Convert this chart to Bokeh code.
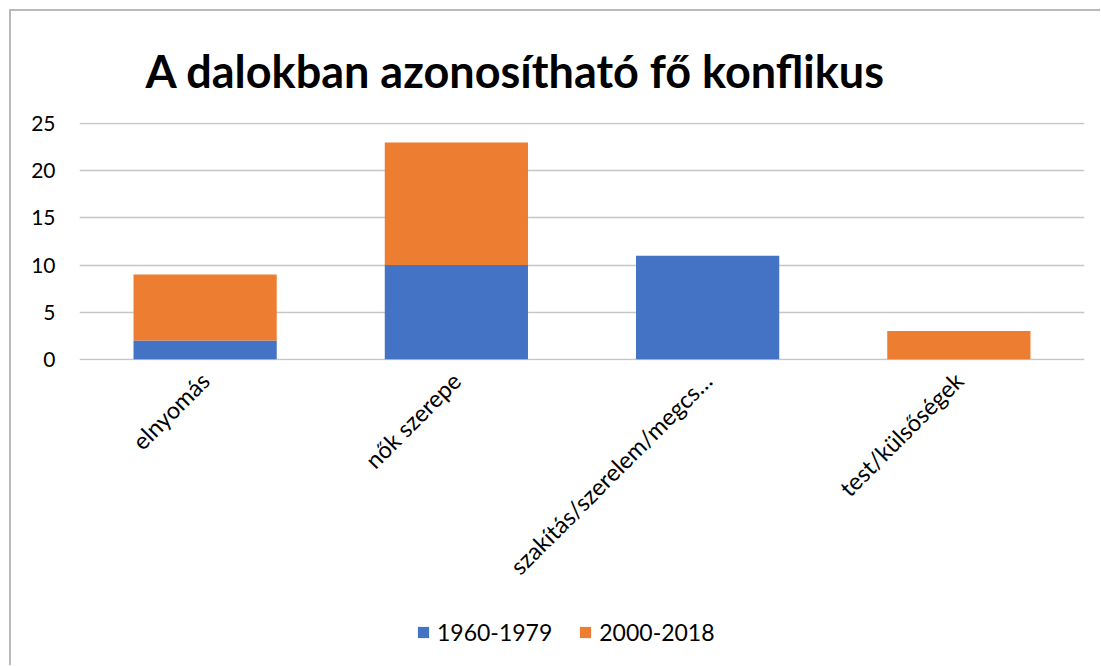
from math import pi

from bokeh.embed import file_html
from bokeh.resources import INLINE
from bokeh.layouts import column
from bokeh.plotting import figure
from bokeh.models import (ColumnDataSource, FactorRange, Range1d, FixedTicker,
                          Legend, LegendItem)

# Data
categories = ["elnyomás", "nők szerepe", "szakítás/szerelem/megcs…", "test/külsőségek"]
series_names = ["1960-1979", "2000-2018"]
values_1960_1979 = [2, 10, 11, 0]
values_2000_2018 = [7, 13, 0, 3]
y_ticks = [0, 5, 10, 15, 20, 25]

colors = ["#4472C4", "#ED7D31"]
FONT = "Lato"
OFF = 11          # chart box starts 11px in from the page corner (margin + border)
W = 1101 - OFF - 1
H_MAIN = 595
H_LEG = 666 - OFF - H_MAIN - 1

source = ColumnDataSource(data=dict(
    cat=categories,
    s1=values_1960_1979,
    s2=values_2000_2018,
))

# Main chart
p = figure(
    x_range=FactorRange(*categories, range_padding=0),
    y_range=Range1d(-0.12, 25.12),
    width=W, height=H_MAIN,
    output_backend="svg", toolbar_location=None,
    min_border_left=79 - OFF, min_border_right=16,
    min_border_top=122 - OFF, min_border_bottom=H_MAIN - (360 - OFF),
)
p.outline_line_color = None
p.background_fill_color = "white"
p.border_fill_color = "white"

renderers = p.vbar_stack(["s1", "s2"], x="cat", width=0.57, source=source,
                         color=colors, line_color=None)

# Title
p.title.text = "A dalokban azonosítható fő konflikus"
p.title.text_font = FONT
p.title.text_font_style = "bold"
p.title.text_font_size = "45px"
p.title.text_color = "#000000"
p.title.align = "left"
p.title.offset = 145 - 79
p.title.standoff = 50

# Gridlines
p.xgrid.grid_line_color = None
p.ygrid.ticker = FixedTicker(ticks=y_ticks)
p.ygrid.grid_line_color = "#c6c6c6"
p.ygrid.grid_line_width = 1.5

# Y axis
p.yaxis.ticker = FixedTicker(ticks=y_ticks)
p.yaxis.axis_line_color = None
p.yaxis.major_tick_line_color = None
p.yaxis.minor_tick_line_color = None
p.yaxis.major_tick_out = 0
p.yaxis.major_label_standoff = 24
p.yaxis.major_label_text_font = FONT
p.yaxis.major_label_text_font_size = "21px"
p.yaxis.major_label_text_color = "#000000"

# X axis
p.xaxis.axis_line_color = None
p.xaxis.major_tick_line_color = None
p.xaxis.major_tick_out = 0
p.xaxis.major_label_orientation = pi / 4
p.xaxis.major_label_standoff = 16
p.xaxis.major_label_text_font = FONT
p.xaxis.major_label_text_font_size = "23.5px"
p.xaxis.major_label_text_color = "#000000"

# Legend strip underneath the chart; its stacked bars sit outside the visible
# y window, so only the legend swatches show.
p_leg = figure(
    x_range=FactorRange(*categories, range_padding=0),
    y_range=Range1d(1000, 1001),
    width=W, height=H_LEG,
    output_backend="svg", toolbar_location=None,
    x_axis_type=None, y_axis_type=None,
    min_border=0,
)
p_leg.outline_line_color = None
p_leg.grid.grid_line_color = None
p_leg.background_fill_color = "white"
p_leg.border_fill_color = "white"

swatches = p_leg.vbar_stack(["s1", "s2"], x="cat", width=0.57, source=source,
                            color=colors, line_color=None)

legend = Legend(
    items=[LegendItem(label=n, renderers=[r]) for n, r in zip(series_names, swatches)],
    orientation="horizontal", location=(416 - 79, 19),
    glyph_width=14, glyph_height=14, label_standoff=7, spacing=26,
    padding=0, margin=0, border_line_color=None, background_fill_alpha=0,
    label_text_font=FONT, label_text_font_size="23px", label_text_color="#000000",
)
p_leg.add_layout(legend, "center")

layout = column(p, p_leg, spacing=0, margin=(9, 0, 0, 9),
                styles={"border-left": "2px solid #b9b9b9",
                        "border-top": "2px solid #b9b9b9"})

open("out.html", "w").write(file_html(layout, INLINE))
